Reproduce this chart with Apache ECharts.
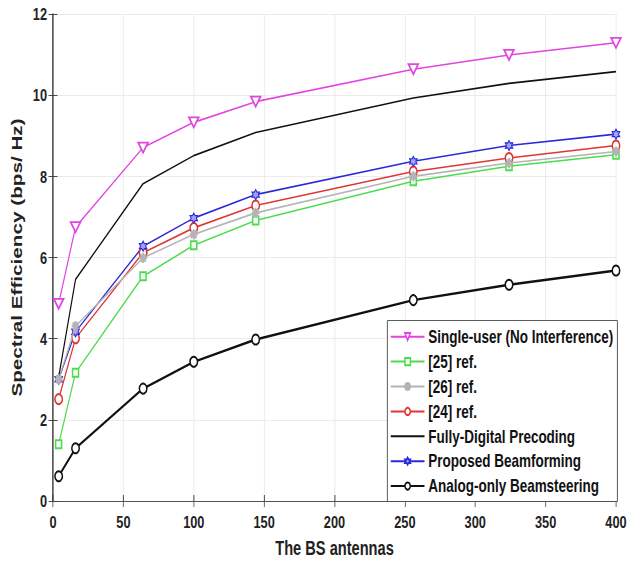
<!DOCTYPE html>
<html><head><meta charset="utf-8">
<script src="https://cdn.jsdelivr.net/npm/echarts@6/dist/echarts.min.js"></script>
<style>
html,body{margin:0;padding:0;background:#fff;overflow:hidden;width:639px;height:563px}
#c{width:852px;height:563px;transform:scaleX(0.75);transform-origin:0 0}
</style>
</head><body><div id="c"></div>
<script>
const antennas = [4, 16, 64, 100, 144, 256, 324, 400];
const singleUser = [4.86, 6.75, 8.71, 9.33, 9.84, 10.64, 10.99, 11.29];
const ref25 = [1.40, 3.16, 5.54, 6.30, 6.91, 7.88, 8.25, 8.53];
const ref26 = [3.00, 4.31, 5.99, 6.57, 7.10, 8.00, 8.33, 8.61];
const ref24 = [2.51, 4.01, 6.12, 6.73, 7.28, 8.12, 8.45, 8.76];
const fullyDigital = [3.05, 5.46, 7.82, 8.51, 9.08, 9.93, 10.29, 10.58];
const proposed = [3.00, 4.17, 6.28, 6.97, 7.55, 8.37, 8.76, 9.04];
const analogOnly = [0.61, 1.30, 2.77, 3.43, 3.98, 4.95, 5.33, 5.68];
const seriesNames = ['Single-user (No Interference)', '[25] ref.', '[26] ref.', '[24] ref.', 'Fully-Digital Precoding', 'Proposed Beamforming', 'Analog-only Beamsteering'];
const xTicks = [0, 50, 100, 150, 200, 250, 300, 350, 400];
const yTicks = [0, 2, 4, 6, 8, 10, 12];

const pair = ys => antennas.map((x, i) => [x, ys[i]]);
const asterisk = 'path://M-0.12,-1 L0.12,-1 L0.12,1 L-0.12,1 Z M-1,-0.12 L1,-0.12 L1,0.12 L-1,0.12 Z M-0.615,-0.785 L0.785,0.615 L0.615,0.785 L-0.785,-0.615 Z M0.785,-0.615 L-0.615,0.785 L-0.785,0.615 L0.615,-0.785 Z';
const hexagram = 'path://M0,-1 L0.289,-0.5 L0.866,-0.5 L0.577,0 L0.866,0.5 L0.289,0.5 L0,1 L-0.289,0.5 L-0.866,0.5 L-0.577,0 L-0.866,-0.5 L-0.289,-0.5 Z';

function mk(name, data, color, symbol, size, lw, extra) {
  return Object.assign({
    name, type: 'line', data: pair(data), symbol, symbolSize: size,
    lineStyle: { color, width: lw },
    itemStyle: { color, borderColor: color, borderWidth: 1.4 },
    emphasis: { disabled: true }, animation: false, z: 3
  }, extra || {});
}

const chart = echarts.init(document.getElementById('c'), null, { renderer: 'svg', width: 852, height: 563 });
const labelFont = { fontFamily: 'Liberation Sans, Arial, sans-serif', fontWeight: 'bold', fontSize: 17, color: '#222' };
chart.setOption({
  animation: false,
  grid: { left: 70.7, right: 30.7, top: 14, bottom: 61 },
  graphic: [{
    type: 'rect', left: 516, top: 320, z: 9, silent: true,
    shape: { width: 306.7, height: 181 },
    style: { fill: '#fff', stroke: '#444', lineWidth: 1 }
  }],
  xAxis: [{
    type: 'value', min: 0, max: 400, interval: 50,
    axisLine: { lineStyle: { color: '#333', width: 1 } },
    axisTick: { inside: true, length: 6, lineStyle: { color: '#333' } },
    splitLine: { show: true, lineStyle: { color: '#e8e8e8' } },
    axisLabel: Object.assign({ margin: 12 }, labelFont),
    name: 'The BS antennas', nameLocation: 'middle', nameGap: 37,
    nameTextStyle: { fontFamily: 'Liberation Sans, Arial, sans-serif', fontWeight: 'bold', fontSize: 19.5, color: '#222' }
  }, {
    type: 'value', min: 0, max: 400, interval: 50, position: 'top',
    axisLine: { show: true, lineStyle: { color: '#555' } },
    axisTick: { show: true, inside: true, length: 6, lineStyle: { color: '#555' } },
    axisLabel: { show: false }, splitLine: { show: false }
  }],
  yAxis: [{
    type: 'value', min: 0, max: 12, interval: 2,
    axisLine: { show: true, lineStyle: { color: '#333' } },
    axisTick: { show: true, inside: true, length: 6, lineStyle: { color: '#333' } },
    splitLine: { show: true, lineStyle: { color: '#e8e8e8' } },
    axisLabel: Object.assign({ margin: 8 }, labelFont),
    name: 'Spectral Efficiency (bps/ Hz)', nameLocation: 'middle', nameGap: 30,
    nameTextStyle: { fontFamily: 'Liberation Sans, Arial, sans-serif', fontWeight: 'bold', fontSize: 20.7, color: '#222' }
  }, {
    type: 'value', min: 0, max: 12, interval: 2, position: 'right',
    axisLine: { show: true, lineStyle: { color: '#333' } },
    axisTick: { show: true, inside: true, length: 6, lineStyle: { color: '#333' } },
    axisLabel: { show: false }, splitLine: { show: false }
  }],
  legend: {
    orient: 'vertical', left: 516, top: 320, z: 10,
    itemWidth: 45, itemHeight: 9, itemGap: 6.9,
    padding: [7.7, 5, 6, 4],
    textStyle: { fontFamily: 'Liberation Sans, Arial, sans-serif', fontWeight: 'bold', fontSize: 18, color: '#111' },
    data: seriesNames
  },
  series: [
    mk(seriesNames[0], singleUser, '#e244e2', 'emptyTriangle', [13, 10], 1.6, { symbolRotate: 180 }),
    mk(seriesNames[1], ref25, '#4ddc4d', 'emptyRect', 8, 1.6),
    mk(seriesNames[2], ref26, '#b4b4b4', asterisk, 9, 1.6, { z: 4 }),
    mk(seriesNames[3], ref24, '#e03535', 'emptyCircle', 10, 1.6),
    mk(seriesNames[4], fullyDigital, '#111', 'none', 0, 1.6, { z: 4, itemStyle: { color: 'transparent', borderWidth: 0 } }),
    mk(seriesNames[5], proposed, '#2a2ad6', hexagram, 10, 1.6, { itemStyle: { color: '#9fa4ff', borderColor: '#2a2ad6', borderWidth: 1.3 } }),
    mk(seriesNames[6], analogOnly, '#111', 'emptyCircle', 10, 2.4, { itemStyle: { color: '#111', borderColor: '#111', borderWidth: 2 } })
  ]
});
</script></body></html>
